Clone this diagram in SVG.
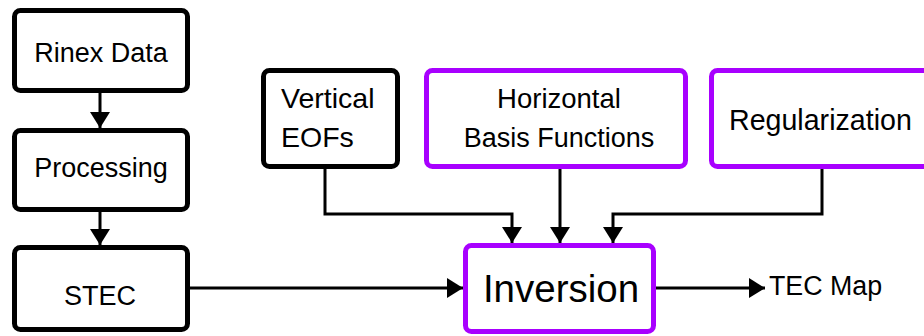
<svg xmlns="http://www.w3.org/2000/svg" width="924" height="336" viewBox="0 0 924 336">
  <style>
    .box { fill: #ffffff; stroke-width: 5; }
    .blk { stroke: #000000; }
    .pur { stroke: #A800FF; }
    .lbl { font-family: "Liberation Sans", Arial, sans-serif; fill: #000000; }
    .mid { text-anchor: middle; }
    .edge { fill: none; stroke: #000000; stroke-width: 3; marker-end: url(#head); }
  </style>
  <defs>
    <marker id="head" markerUnits="userSpaceOnUse" markerWidth="16" markerHeight="20" refX="16" refY="10" orient="auto">
      <path d="M0,0 L16,10 L0,20 z" fill="#000000"/>
    </marker>
  </defs>

  <g id="connectors">
    <path class="edge" d="M100,92 V128"/>
    <path class="edge" d="M100,211 V245"/>
    <path class="edge" d="M190,288 H463"/>
    <path class="edge" d="M325,168 V214 H512 V243"/>
    <path class="edge" d="M560,168 V243"/>
    <path class="edge" d="M822,168 V214 H613 V243"/>
    <path class="edge" d="M656,288 H765"/>
  </g>

  <g id="rinex">
    <rect class="box blk" x="14.5" y="10.5" width="173" height="80" rx="6"/>
    <text class="lbl mid" x="101" y="62" font-size="27">Rinex Data</text>
  </g>
  <g id="processing">
    <rect class="box blk" x="14.5" y="130.5" width="173" height="79" rx="6"/>
    <text class="lbl mid" x="101" y="177" font-size="27">Processing</text>
  </g>
  <g id="stec">
    <rect class="box blk" x="14.5" y="247.5" width="173" height="82" rx="6"/>
    <text class="lbl mid" x="100" y="305" font-size="27">STEC</text>
  </g>
  <g id="vertical-eofs">
    <rect class="box blk" x="263.5" y="70.5" width="134" height="96" rx="6"/>
    <text class="lbl" x="281" y="108" font-size="28.5">Vertical</text>
    <text class="lbl" x="281" y="147" font-size="28.5">EOFs</text>
  </g>
  <g id="horizontal-basis">
    <rect class="box pur" x="426.5" y="70.5" width="259" height="96" rx="6"/>
    <text class="lbl mid" x="559" y="108" font-size="27.5">Horizontal</text>
    <text class="lbl mid" x="559" y="147" font-size="27">Basis Functions</text>
  </g>
  <g id="regularization">
    <rect class="box pur" x="711.5" y="70.5" width="240" height="96" rx="6"/>
    <text class="lbl" x="729" y="130" font-size="28.6">Regularization</text>
  </g>
  <g id="inversion">
    <rect class="box pur" x="465.5" y="245.5" width="188" height="86" rx="6"/>
    <text class="lbl mid" x="561" y="302" font-size="38.5">Inversion</text>
  </g>
  <g id="tec-map">
    <text class="lbl" x="769" y="295" font-size="26.8">TEC Map</text>
  </g>
</svg>
